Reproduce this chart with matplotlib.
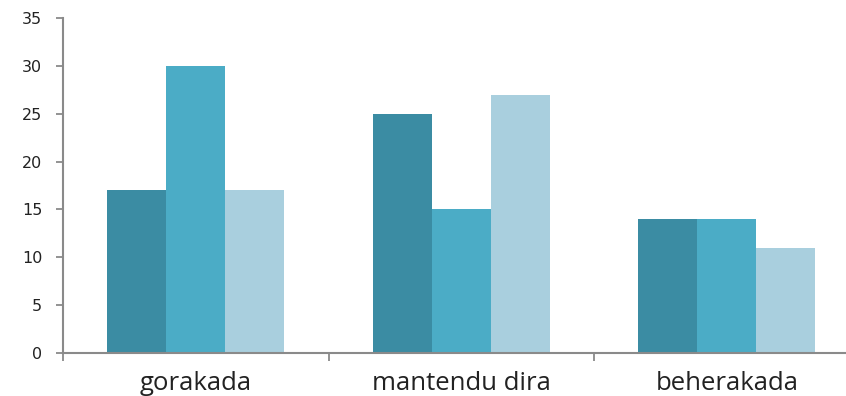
import numpy as np
import matplotlib.pyplot as plt

# categories and series values
categories = ["gorakada", "mantendu dira", "beherakada"]
series_a = [17, 25, 14]
series_b = [30, 15, 14]
series_c = [17, 27, 11]
colors = ["#3b8ca3", "#4bacc6", "#a9cfde"]
yticks = [0, 5, 10, 15, 20, 25, 30, 35]

fig = plt.figure(figsize=(8.46, 3.96), dpi=100)
# axes extends slightly past right edge like the reference
ax = fig.add_axes([63 / 846, 43 / 396, 796.5 / 846, 335 / 396])

x = np.arange(len(categories))
w = 0.222
for i, vals in enumerate([series_a, series_b, series_c]):
    ax.bar(x + (i - 1) * w, vals, w, color=colors[i], linewidth=0)

ax.set_xlim(-0.5, 2.5)
ax.set_ylim(0, 35)
ax.set_yticks(yticks)
ax.set_yticklabels([str(v) for v in yticks], fontsize=11.5, fontfamily="DejaVu Sans", color="#222222")

# category labels centered, ticks on group borders
ax.set_xticks([-0.5, 0.5, 1.5, 2.5])
ax.set_xticklabels([])
ax.set_xticks(x, minor=True)
ax.set_xticklabels(categories, minor=True, fontsize=18.5, fontfamily="Open Sans", color="#222222")
ax.tick_params(axis="x", which="minor", length=0, pad=13)
ax.tick_params(axis="x", which="major", length=6, width=1.3, color="#8a8a8a")
ax.tick_params(axis="y", length=5, width=1.3, color="#8a8a8a", pad=10)

for s in ["top", "right"]:
    ax.spines[s].set_visible(False)
for s in ["left", "bottom"]:
    ax.spines[s].set_color("#8a8a8a")
    ax.spines[s].set_linewidth(1.5)

fig.savefig("out.png", dpi=100)
